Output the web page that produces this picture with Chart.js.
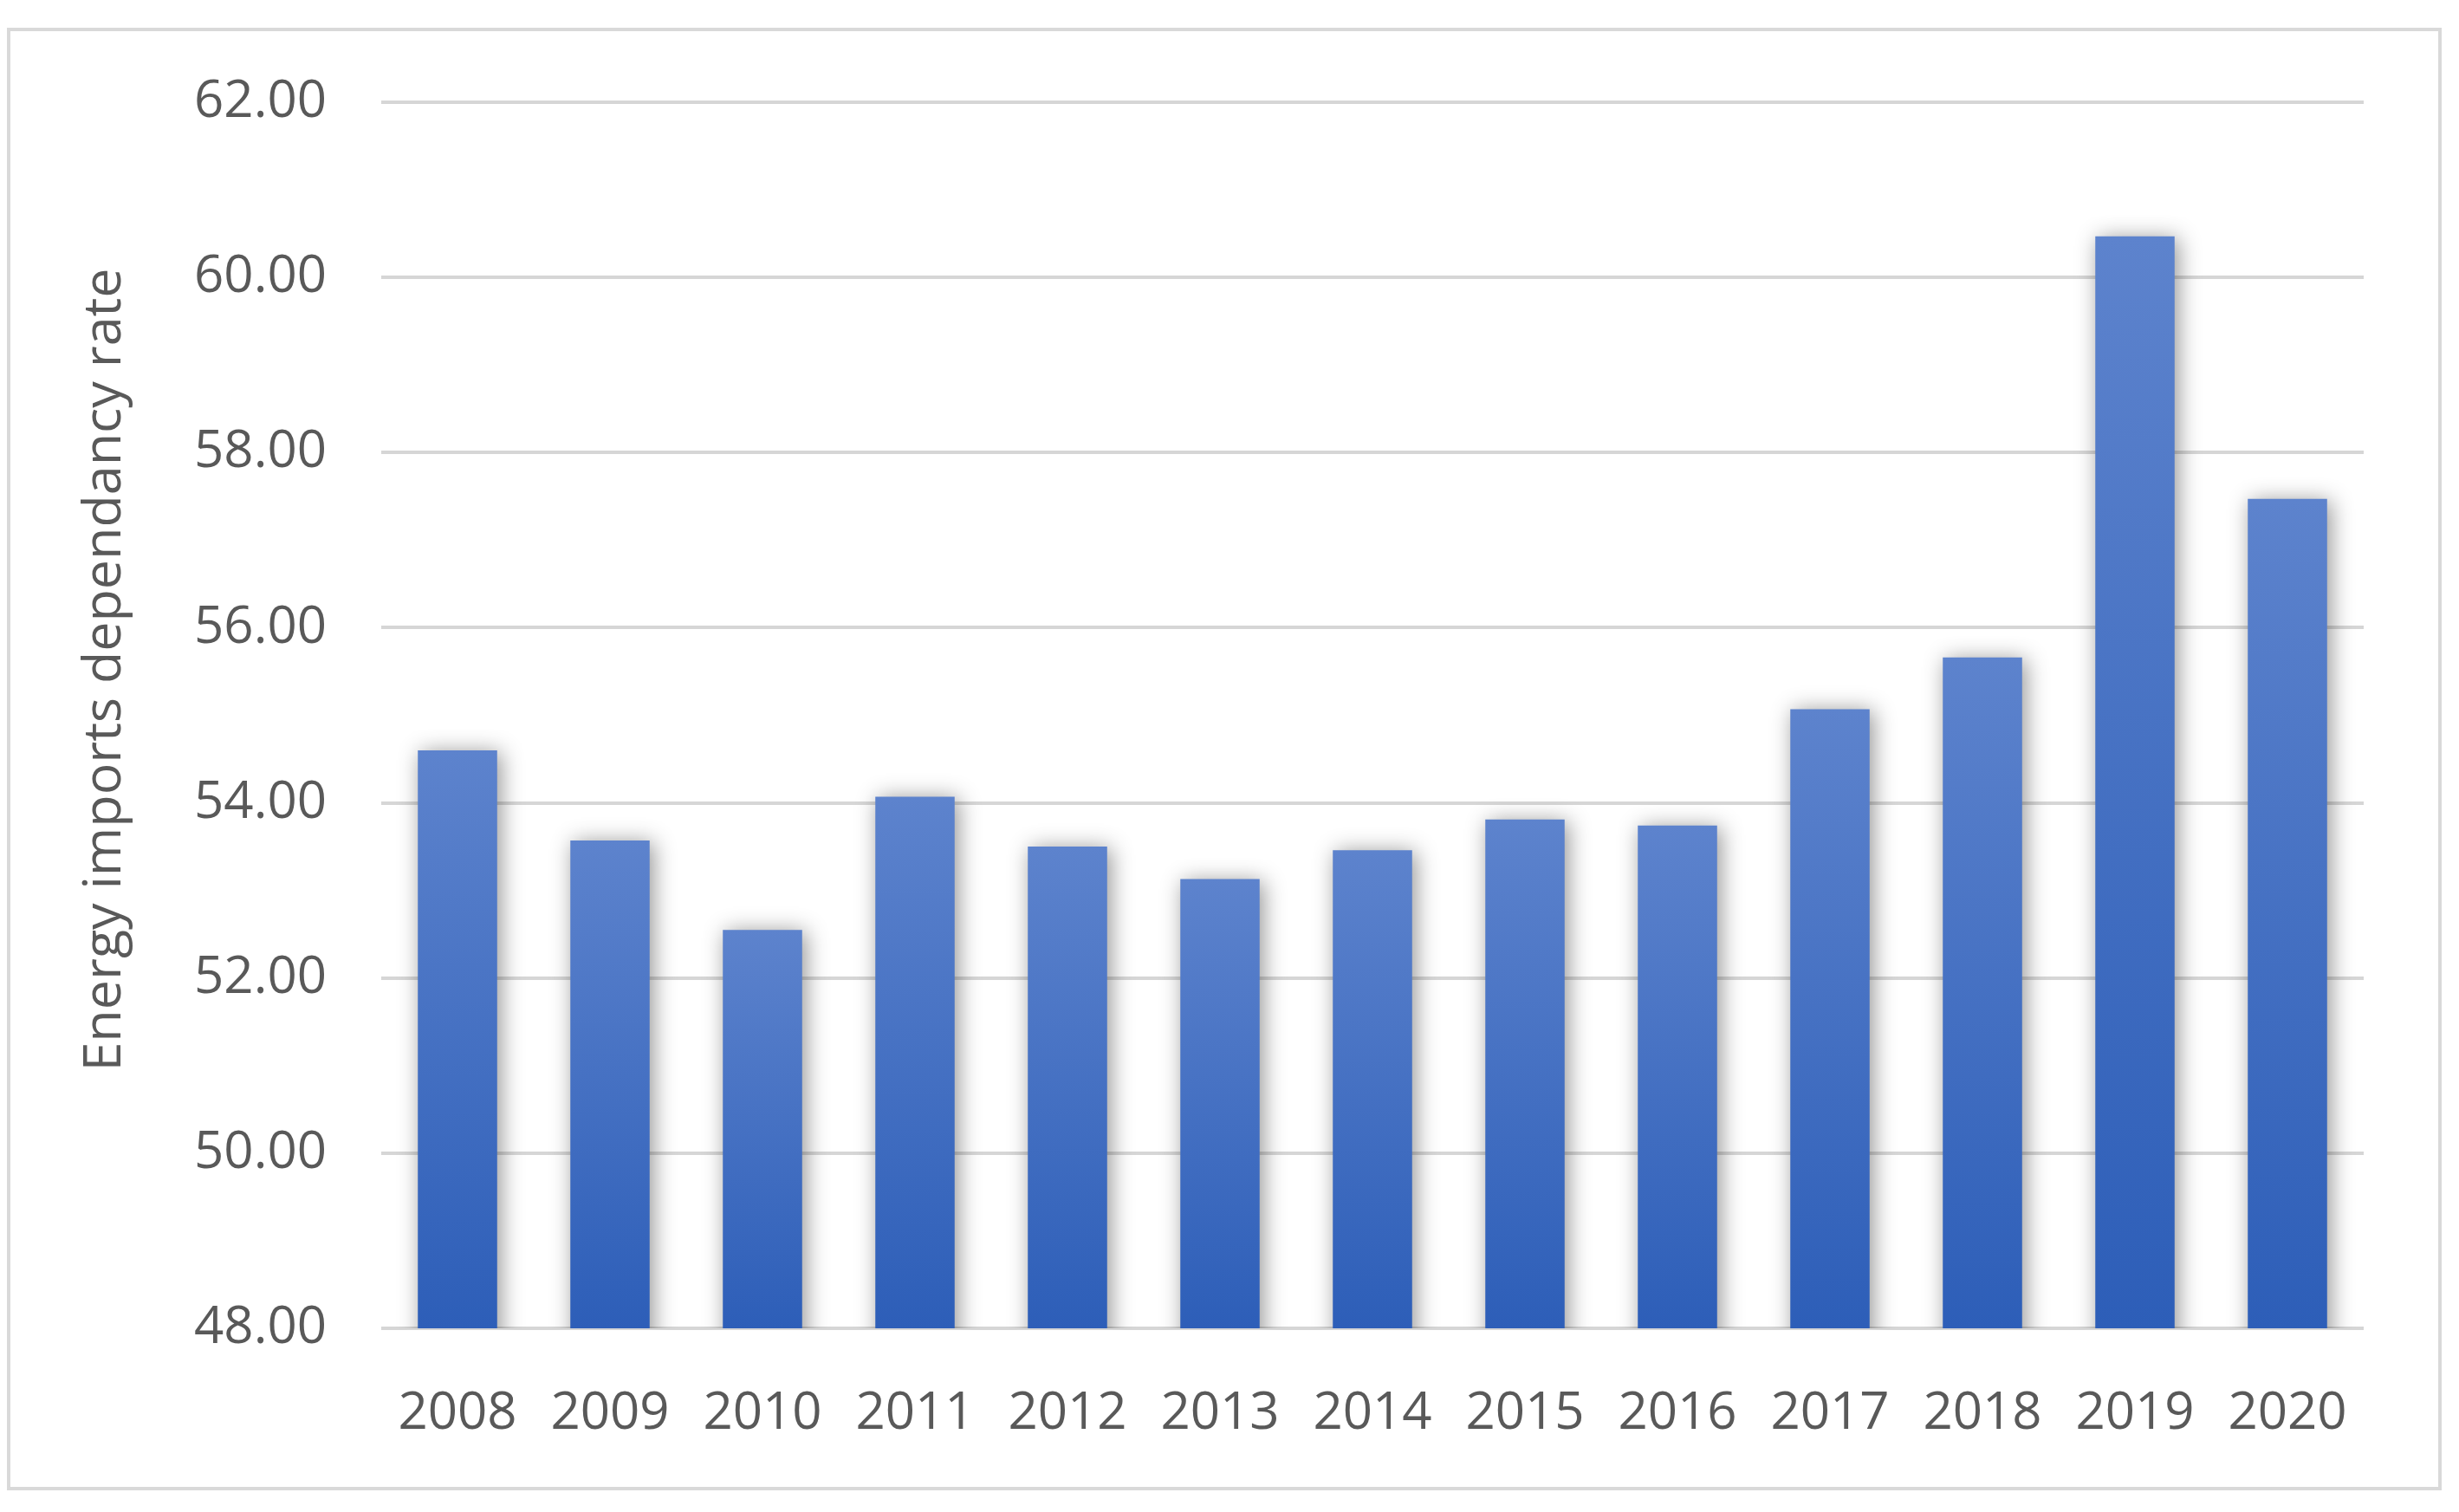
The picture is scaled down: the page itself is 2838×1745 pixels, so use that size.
<!DOCTYPE html>
<html>
<head>
<meta charset="utf-8">
<script src="https://cdn.jsdelivr.net/npm/chart.js@4.4.1/dist/chart.umd.min.js"></script>
<style>
  html, body { margin: 0; padding: 0; background: #ffffff; }
  #wrap { position: absolute; left: 0; top: 0; width: 2838px; height: 1745px; }
  #frame { position: absolute; left: 8px; top: 32px; width: 2802px; height: 1680px; border: 4px solid #d9d9d9; box-sizing: content-box; }
  canvas { position: absolute; left: 0; top: 0; }
</style>
</head>
<body>
<div id="wrap">
  <div id="frame"></div>
  <canvas id="c" width="2838" height="1745"></canvas>
</div>
<script>
const years = ["2008","2009","2010","2011","2012","2013","2014","2015","2016","2017","2018","2019","2020"];
const dependencyRate = [54.60, 53.57, 52.55, 54.07, 53.50, 53.13, 53.46, 53.81, 53.74, 55.07, 55.66, 60.47, 57.47];
const yTickMin = 48;
const yTickMax = 62;
const yTickStep = 2;
const yAxisTitle = "Energy imports dependancy rate";

const FONT = "'Open Sans', 'Noto Sans', sans-serif";
const TEXT_COLOR = "#595959";

function barGradient(ctx) {
  const chart = ctx.chart;
  const area = chart.chartArea;
  if (!area || ctx.type !== 'data') return '#4472c4';
  const y = chart.scales.y;
  const top = y.getPixelForValue(ctx.parsed.y);
  const bottom = area.bottom;
  const g = chart.ctx.createLinearGradient(0, top, 0, bottom);
  g.addColorStop(0, 'rgb(93,131,205)');
  g.addColorStop(1, 'rgb(45,94,184)');
  return g;
}

const shadowPlugin = {
  id: 'barShadow',
  beforeDatasetDraw(chart) {
    const c = chart.ctx;
    c.save();
    c.shadowColor = 'rgba(0,0,0,0.42)';
    c.shadowBlur = 24;
    c.shadowOffsetX = 4;
    c.shadowOffsetY = 2;
  },
  afterDatasetDraw(chart) {
    chart.ctx.restore();
  }
};

const yTitlePlugin = {
  id: 'yTitle',
  afterDraw(chart) {
    const c = chart.ctx;
    c.save();
    c.translate(122, 773);
    c.rotate(-Math.PI / 2);
    c.font = "61px " + FONT;
    c.fillStyle = TEXT_COLOR;
    c.textAlign = 'center';
    c.textBaseline = 'middle';
    c.fillText(yAxisTitle, 0, 0);
    c.restore();
  }
};

new Chart(document.getElementById('c'), {
  type: 'bar',
  data: {
    labels: years,
    datasets: [{
      label: yAxisTitle,
      data: dependencyRate,
      backgroundColor: barGradient,
      borderWidth: 0,
      categoryPercentage: 1.0,
      barPercentage: 0.52
    }]
  },
  options: {
    responsive: false,
    animation: false,
    devicePixelRatio: 1,
    layout: { padding: { left: 0, right: 110, top: 118, bottom: 0 } },
    plugins: {
      legend: { display: false },
      tooltip: { enabled: false },
      title: { display: false }
    },
    scales: {
      x: {
        grid: { display: false, drawTicks: false },
        border: { display: false },
        ticks: {
          color: TEXT_COLOR,
          font: { family: FONT, size: 60 },
          padding: 63,
          maxRotation: 0,
          autoSkip: false
        },
        afterFit(scale) { scale.height = 212; }
      },
      y: {
        min: yTickMin,
        max: yTickMax,
        grid: { color: '#d6d6d6', lineWidth: 4, drawTicks: false },
        border: { display: false },
        ticks: {
          stepSize: yTickStep,
          color: TEXT_COLOR,
          font: { family: FONT, size: 60 },
          padding: 63,
          callback: (v) => Number(v).toFixed(2)
        },
        afterFit(scale) { scale.width = 440; }
      }
    }
  },
  plugins: [shadowPlugin, yTitlePlugin]
});
</script>
</body>
</html>
